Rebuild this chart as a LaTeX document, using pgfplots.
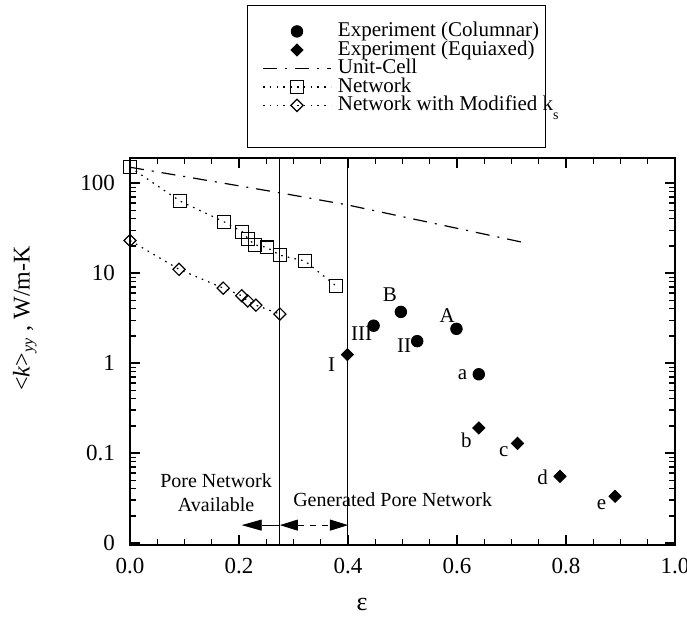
\documentclass[border=0pt]{standalone}
\usepackage{fontspec}
\setmainfont{Liberation Serif}
\usepackage{pgfplots}
\pgfplotsset{compat=1.18}
\usetikzlibrary{arrows.meta}

\pgfplotsset{
  longlegend/.style={legend image code/.code={
    \draw[mark repeat=2,mark phase=2,##1] plot coordinates {(0pt,0pt)(17pt,0pt)(34pt,0pt)};}},
}

\begin{document}
\begin{tikzpicture}
\begin{axis}[
    scale only axis,
    width=272.5pt, height=193.5pt,
    xmin=0, xmax=1,
    ymode=log, ymin=0.0095, ymax=190,
    xtick={0,0.2,0.4,0.6,0.8,1.0},
    xticklabels={0.0,0.2,0.4,0.6,0.8,1.0},
    minor x tick num=3,
    ytick={0.01,0.1,1,10,100},
    yticklabels={0,0.1,1,10,100},
    tick align=inside,
    major tick length=5pt, minor tick length=3pt,
    axis line style={line width=1pt},
    every tick/.style={black, line width=0.6pt},
    tick label style={font=\fontsize{11.5}{13}\selectfont},
    yticklabel style={xshift=-4pt},
    xticklabel style={yshift=-3pt},
    xlabel={ε},
    xlabel style={at={(axis description cs:0.426,0)}, anchor=center, yshift=-29.5pt, font=\fontsize{13}{15}\selectfont},
    ylabel={<\textit{k}>\textsubscript{\textit{yy}}~, W/m-K},
    ylabel style={at={(axis description cs:-0.193,0.585)}, anchor=center, font=\fontsize{12}{14}\selectfont},
    legend style={at={(axis description cs:0.2422,1.3520)}, anchor=north west,
      draw=none, fill=none, font=\fontsize{10.5}{12}\selectfont,
      inner xsep=0pt, inner ysep=0pt,
      nodes={inner sep=0.2pt, text height=7pt, text depth=1.85pt},
      /tikz/every odd column/.append style={column sep=3pt}},
    legend cell align=left,
]

% experiment, columnar
\addplot[only marks, mark=*, mark size=2.9pt, black, longlegend] coordinates {
  (0.447,2.6) (0.497,3.7) (0.527,1.75) (0.599,2.4) (0.640,0.75)
};
\addlegendentry{Experiment (Columnar)}

% experiment, equiaxed
\addplot[only marks, mark=square*, mark size=2.15pt, mark options={rotate=45}, black, longlegend] coordinates {
  (0.399,1.24) (0.640,0.19) (0.711,0.128) (0.789,0.055) (0.890,0.033)
};
\addlegendentry{Experiment (Equiaxed)}

% unit cell model
\addplot[black, line width=0.6pt, dash pattern=on 7pt off 4pt on 1pt off 4pt, longlegend] coordinates {
  (0,150) (0.28,77) (0.40,57) (0.72,22)
};
\addlegendentry{Unit-Cell}

% network model
\addplot[black, line width=0.6pt, dash pattern=on 0.8pt off 2.6pt, mark=square, mark size=3.2pt,
  mark options={solid, fill=white, line width=0.6pt}, longlegend] coordinates {
  (0.0,150) (0.092,63) (0.173,37) (0.206,28.8) (0.217,23.9) (0.229,20.6)
  (0.251,19.3) (0.275,15.8) (0.321,13.6) (0.378,7.2)
};
\addlegendentry{Network}

% network with modified ks
\addplot[black, line width=0.6pt, dash pattern=on 0.8pt off 2.6pt, mark=square, mark size=2.15pt,
  mark options={solid, fill=white, rotate=45, line width=0.6pt}, longlegend] coordinates {
  (0.0,23) (0.09,11) (0.171,6.8) (0.205,5.6) (0.216,4.9) (0.231,4.4) (0.275,3.5)
};
\addlegendentry{Network with Modified k\raisebox{-0.9ex}{\fontsize{7}{8}\selectfont s}}

% limits of the available pore network
\addplot[black, line width=0.5pt, forget plot] coordinates {(0.275,0.0095) (0.275,190)};
\addplot[black, line width=0.5pt, forget plot] coordinates {(0.4,0.0095) (0.4,190)};

\draw[line width=0.4pt, -{Triangle[length=10pt,width=5.5pt]}] (axis cs:0.275,0.0158) -- (axis cs:0.205,0.0158);
\draw[line width=0.4pt, dashed, {Triangle[length=9pt,width=5.5pt]}-{Triangle[length=9pt,width=5.5pt]}] (axis cs:0.275,0.0158) -- (axis cs:0.4,0.0158);

\begin{scope}[font=\fontsize{10.5}{12}\selectfont]
\node at (axis cs:0.477,5.7) {B};
\node at (axis cs:0.582,3.4) {A};
\node at (axis cs:0.425,2.14) {III};
\node at (axis cs:0.503,1.58) {II};
\node at (axis cs:0.370,0.95) {I};
\node at (axis cs:0.610,0.735) {a};
\node at (axis cs:0.617,0.14) {b};
\node at (axis cs:0.686,0.103) {c};
\node at (axis cs:0.757,0.054) {d};
\node at (axis cs:0.865,0.0264) {e};
\end{scope}
\node[font=\fontsize{10}{12}\selectfont, align=center] at (axis cs:0.158,0.036) {Pore Network\\Available};
\node[font=\fontsize{10}{12}\selectfont] at (axis cs:0.482,0.0306) {Generated Pore Network};

\coordinate (SW) at (rel axis cs:0,0);
\coordinate (NE) at (rel axis cs:1,1);
\coordinate (LB) at (rel axis cs:0.2147,1.0284);
\coordinate (LT) at (rel axis cs:0.7633,1.3953);
\end{axis}
% legend frame
\draw[line width=0.5pt] (LB) rectangle (LT);
\pgfresetboundingbox
\path ([shift={(-65pt,-36pt)}]SW) rectangle ([shift={(6pt,79pt)}]NE);
\end{tikzpicture}
\end{document}
